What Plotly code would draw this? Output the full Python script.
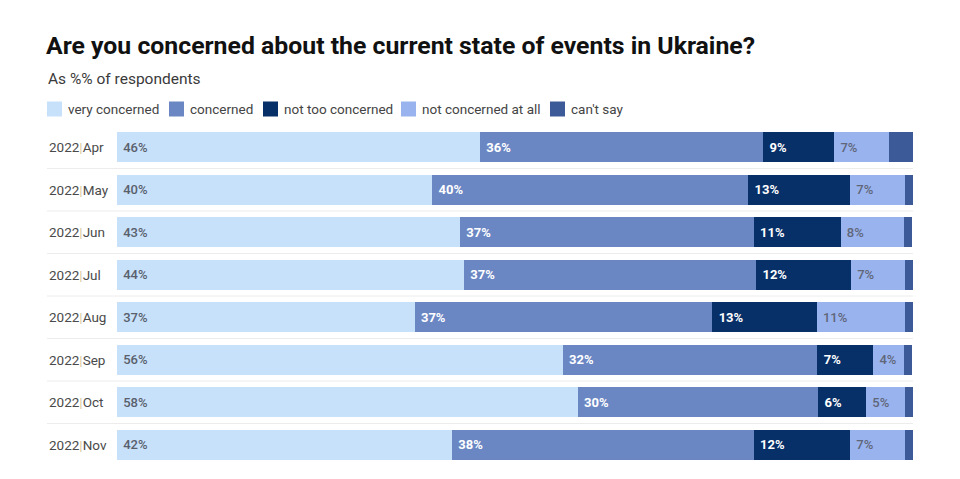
import plotly.graph_objects as go

categories = ["2022|Apr", "2022|May", "2022|Jun", "2022|Jul", "2022|Aug", "2022|Sep", "2022|Oct", "2022|Nov"]
series_names = ["very concerned", "concerned", "not too concerned", "not concerned at all", "can't say"]
very_concerned = [45.6, 39.6, 43.1, 43.6, 37.4, 56.0, 57.9, 42.1]
concerned = [35.6, 39.7, 36.9, 36.7, 37.4, 32.0, 30.2, 37.9]
not_too_concerned = [8.9, 12.8, 10.9, 11.9, 13.1, 7.0, 6.0, 12.1]
not_concerned_at_all = [6.9, 6.9, 8.0, 6.8, 11.1, 3.9, 4.9, 6.9]
cant_say = [3.0, 1.0, 1.0, 1.0, 1.0, 1.0, 1.0, 1.0]

values = [very_concerned, concerned, not_too_concerned, not_concerned_at_all, cant_say]
colors = ["#c8e1fb", "#6a86c3", "#072f68", "#99b3ef", "#3b5a97"]
text_colors = ["#59606c", "#ffffff", "#ffffff", "#5f6678", "#ffffff"]
text_weights = [500, "bold", "bold", 500, "normal"]
show_labels = [True, True, True, True, False]
legend_x_px = [47, 169, 263, 401, 550]  # left edge of each legend square (page px)

FONT = "Roboto"
OFF = 8  # page body margin
W, H = 960 - OFF, 479 - OFF
L, T = 117 - OFF, 126 - OFF
PR, PB = 913 - OFF, 466 - OFF
R, B = W - PR, H - PB
PW, PH = PR - L, PB - T


def px_x(px):
    return (px - OFF - L) / PW


def px_y(py):
    return (PB - (py - OFF)) / PH


fig = go.Figure()
for name, vals, col, tcol, tw, show in zip(series_names, values, colors, text_colors, text_weights, show_labels):
    fig.add_trace(go.Bar(
        name=name,
        y=categories,
        x=vals,
        orientation="h",
        marker=dict(color=col, line=dict(width=0)),
        text=[f"\u00a0{round(v)}%" for v in vals] if show else None,
        textposition="inside" if show else "none",
        insidetextanchor="start",
        textangle=0,
        constraintext="none",
        textfont=dict(family=FONT, size=13, color=tcol, weight=tw),
        hoverinfo="name+x",
        showlegend=False,
    ))

annotations = []
for c in categories:
    y0, y1 = c.split("|")
    annotations.append(dict(
        text=f"{y0}<span style='color:#d9c99b'>|</span>{y1}",
        x=px_x(47), xref="paper", y=c, yref="y",
        xanchor="left", yanchor="middle", showarrow=False,
        font=dict(family=FONT, size=13.5, color="#4a4a4a"),
    ))
annotations.append(dict(
    text="As %% of respondents", x=px_x(46), xref="paper", xanchor="left",
    y=px_y(79), yref="paper", yanchor="middle", showarrow=False,
    font=dict(family=FONT, size=15.5, color="#3a3a3a"),
))

shapes = []
for i in range(len(categories) - 1):
    shapes.append(dict(
        type="line", xref="paper", yref="y",
        x0=px_x(47), x1=1.0, y0=i + 0.5, y1=i + 0.5,
        line=dict(color="#ececec", width=1),
        layer="below",
    ))

# legend (squares + labels)
for name, col, lx in zip(series_names, colors, legend_x_px):
    shapes.append(dict(
        type="rect", xref="paper", yref="paper",
        x0=px_x(lx), x1=px_x(lx + 15), y0=px_y(101.5), y1=px_y(116.5),
        fillcolor=col, line=dict(width=0),
    ))
    annotations.append(dict(
        text=name, x=px_x(lx + 19), xref="paper", xanchor="left",
        y=px_y(109), yref="paper", yanchor="middle", showarrow=False,
        font=dict(family=FONT, size=13.5, color="#444444"),
    ))

fig.update_layout(
    barmode="stack",
    bargap=0.29,
    width=W, height=H,
    margin=dict(l=L, r=R, t=T, b=B),
    paper_bgcolor="white", plot_bgcolor="white",
    font=dict(family=FONT, color="#444444"),
    title=dict(
        text="<b>Are you concerned about the current state of events in Ukraine?</b>",
        x=(46 - OFF) / W, xanchor="left", y=1 - (45 - OFF) / H, yanchor="middle",
        font=dict(family=FONT, size=24.8, color="#111111"),
    ),
    showlegend=False,
    xaxis=dict(range=[0, 100], showgrid=False, zeroline=False, showticklabels=False, fixedrange=True),
    yaxis=dict(autorange="reversed", showgrid=False, showticklabels=False, fixedrange=True),
    annotations=annotations,
    shapes=shapes,
)

fig.write_html("out.html")
